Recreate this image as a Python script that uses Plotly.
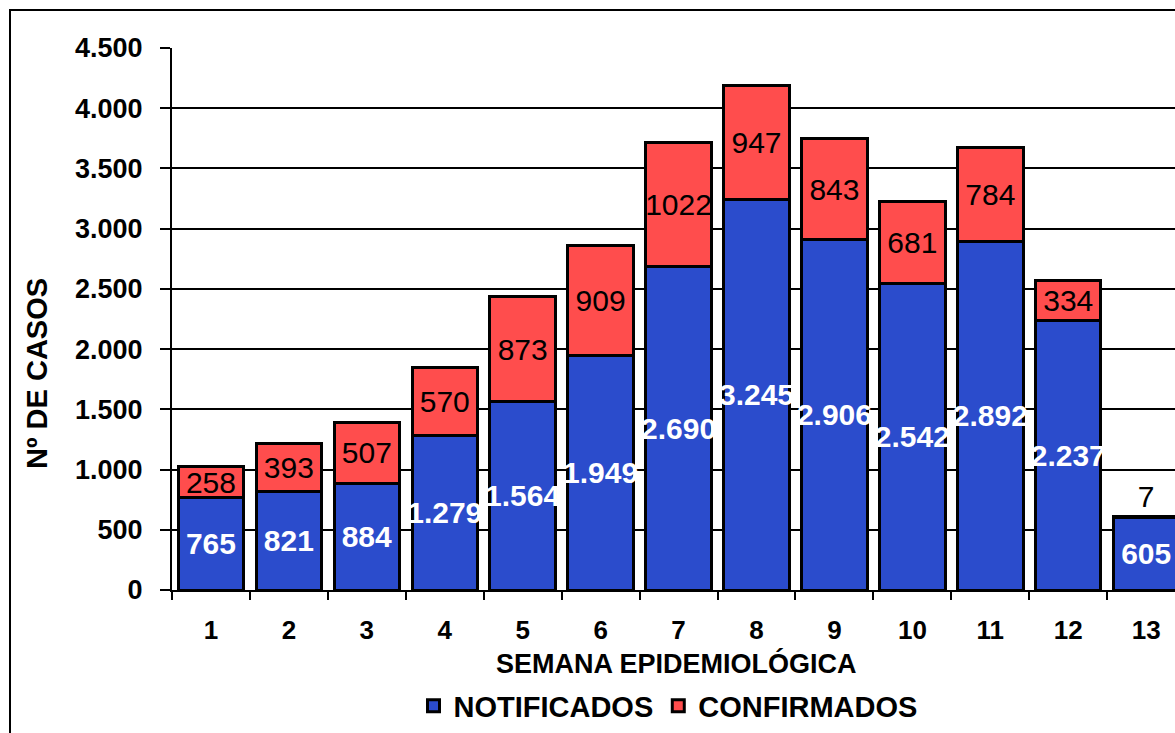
import plotly.graph_objects as go

semanas = ["1", "2", "3", "4", "5", "6", "7", "8", "9", "10", "11", "12", "13"]
notificados = [765, 821, 884, 1279, 1564, 1949, 2690, 3245, 2906, 2542, 2892, 2237, 605]
confirmados = [258, 393, 507, 570, 873, 909, 1022, 947, 843, 681, 784, 334, 7]
y_ticks = [0, 500, 1000, 1500, 2000, 2500, 3000, 3500, 4000, 4500]

FONT = "Liberation Sans, Arial, sans-serif"

W, H = 1175, 733
ML, MR, MT, MB = 172, 0, 48, 143
PW = W - ML - MR
PH = H - MT - MB


def px_x(px):
    return (px - ML) / PW


def px_y(py):
    return (H - MB - py) / PH


def fmt_pt(v):
    return f"{v:,}".replace(",", ".")


fig = go.Figure()

fig.add_trace(go.Bar(
    name="NOTIFICADOS",
    x=semanas,
    y=notificados,
    text=[fmt_pt(v) for v in notificados],
    textposition="inside",
    insidetextanchor="middle",
    textangle=0,
    constraintext="none",
    textfont=dict(family=FONT, size=30, color="white", weight="bold"),
    marker=dict(color="#2b4ccc", line=dict(color="black", width=3)),
    cliponaxis=False,
))

fig.add_trace(go.Bar(
    name="CONFIRMADOS",
    x=semanas,
    y=confirmados,
    text=[str(v) for v in confirmados],
    textposition=["inside"] * (len(confirmados) - 1) + ["outside"],
    insidetextanchor="middle",
    textangle=0,
    constraintext="none",
    textfont=dict(family=FONT, size=30, color="black"),
    outsidetextfont=dict(family=FONT, size=30, color="black"),
    marker=dict(color="#ff4d4d", line=dict(color="black", width=3)),
    cliponaxis=False,
))

fig.update_layout(
    width=W,
    height=H,
    barmode="stack",
    bargap=0.16,
    separators=",.",
    plot_bgcolor="white",
    paper_bgcolor="white",
    margin=dict(l=ML, r=MR, t=MT, b=MB, pad=0),
    font=dict(family=FONT, color="black"),
    showlegend=True,
    legend=dict(
        orientation="h",
        x=px_x(668), xanchor="center",
        y=px_y(706), yanchor="middle",
        font=dict(family=FONT, size=29, color="black", weight="bold"),
        traceorder="normal",
        bgcolor="rgba(0,0,0,0)",
    ),
    xaxis=dict(
        type="category",
        range=[-0.5, 12.37],
        showline=True, linecolor="black", linewidth=2,
        ticks="outside", ticklen=8, tickwidth=2, tickcolor="black",
        tickson="boundaries",
        ticklabelstandoff=16,
        tickfont=dict(family=FONT, size=26, color="black", weight="bold"),
        showgrid=False,
    ),
    yaxis=dict(
        range=[0, 4500],
        tickvals=y_ticks,
        tickformat=",d",
        showline=True, linecolor="black", linewidth=2,
        ticks="outside", ticklen=10, tickwidth=2, tickcolor="black",
        ticklabelstandoff=12,
        tickfont=dict(family=FONT, size=27, color="black", weight="bold"),
        showgrid=True, gridcolor="black", gridwidth=2,
        zeroline=False,
    ),
    annotations=[
        dict(text="Nº DE CASOS", xref="paper", yref="paper",
             x=px_x(37), y=px_y(374), xanchor="center", yanchor="middle",
             textangle=-90, showarrow=False,
             font=dict(family=FONT, size=29, color="black", weight="bold")),
        dict(text="SEMANA EPIDEMIOLÓGICA", xref="paper", yref="paper",
             x=px_x(676), y=px_y(663), xanchor="center", yanchor="middle",
             showarrow=False,
             font=dict(family=FONT, size=27, color="black", weight="bold")),
    ],
    shapes=[
        dict(type="rect", xref="paper", yref="paper",
             x0=px_x(10), x1=px_x(W + 40), y0=px_y(H + 40), y1=px_y(10),
             line=dict(color="black", width=2), fillcolor="rgba(0,0,0,0)",
             layer="above"),
    ],
)

fig.write_html(
    "out.html",
    config={"displayModeBar": False},
    post_script="document.body.style.margin='0';document.body.style.overflow='hidden';",
)
